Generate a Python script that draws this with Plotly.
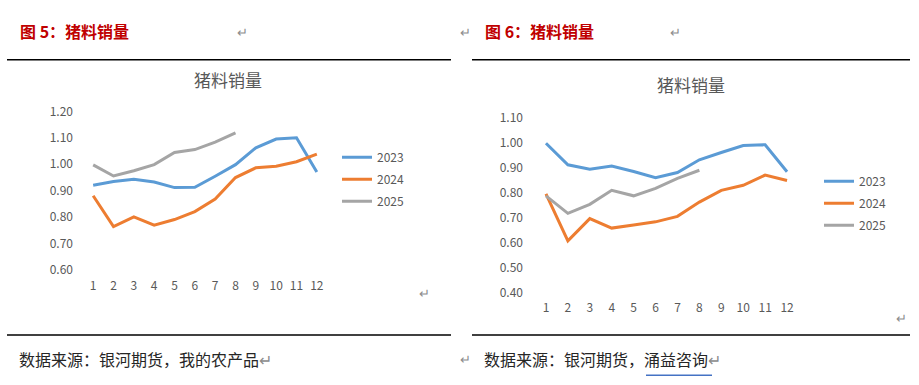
import plotly.graph_objects as go

months = list(range(1, 13))
month_labels = [str(m) for m in months]

# Chart 1 (图5)
c1_2023 = [0.92, 0.934, 0.943, 0.932, 0.911, 0.912, 0.954, 0.998, 1.062, 1.095, 1.10, 0.97]
c1_2024 = [0.88, 0.763, 0.80, 0.769, 0.79, 0.82, 0.868, 0.949, 0.986, 0.992, 1.009, 1.038]
c1_2025 = [0.997, 0.955, 0.975, 0.998, 1.044, 1.055, 1.083, 1.118]

# Chart 2 (图6)
c2_2023 = [0.998, 0.912, 0.894, 0.907, 0.885, 0.86, 0.881, 0.932, 0.961, 0.989, 0.992, 0.884]
c2_2024 = [0.796, 0.608, 0.697, 0.659, 0.671, 0.684, 0.706, 0.763, 0.81, 0.83, 0.871, 0.849]
c2_2025 = [0.788, 0.718, 0.754, 0.81, 0.788, 0.818, 0.858, 0.89]

series_names = ["2023", "2024", "2025"]
colors = ["#5B9BD5", "#ED7D31", "#A5A5A5"]

c1_ticks = [0.60, 0.70, 0.80, 0.90, 1.00, 1.10, 1.20]
c2_ticks = [0.40, 0.50, 0.60, 0.70, 0.80, 0.90, 1.00, 1.10]

W, H = 919, 385
FONT = "Noto Sans CJK SC"
GRAY = "#595959"

def px(x):
    return x / W

def py(y):
    return 1 - y / H

fig = go.Figure()

for name, vals, col in zip(series_names, [c1_2023, c1_2024, c1_2025], colors):
    fig.add_trace(go.Scatter(x=months[:len(vals)], y=vals, mode="lines", name=name,
                             line=dict(color=col, width=3), xaxis="x", yaxis="y",
                             legend="legend", legendgroup="a" + name))
for name, vals, col in zip(series_names, [c2_2023, c2_2024, c2_2025], colors):
    fig.add_trace(go.Scatter(x=months[:len(vals)], y=vals, mode="lines", name=name,
                             line=dict(color=col, width=3), xaxis="x2", yaxis="y2",
                             legend="legend2", legendgroup="b" + name))

axis_common = dict(showgrid=False, zeroline=False, showline=False, ticks="",
                   tickfont=dict(family=FONT, size=12, color=GRAY), fixedrange=True)

fig.update_layout(
    width=W, height=H, autosize=False,
    margin=dict(l=0, r=0, t=0, b=0),
    paper_bgcolor="white", plot_bgcolor="white",
    font=dict(family=FONT, color=GRAY),
    xaxis=dict(domain=[px(83), px(327)], range=[0.5, 12.5], tickmode="array",
               tickvals=months, ticktext=month_labels, anchor="y",
               ticklabelstandoff=7, **axis_common),
    yaxis=dict(domain=[py(271.7), py(106)], range=[0.6, 1.2], tickmode="array",
               tickvals=c1_ticks, ticktext=[f"{v:.2f}" for v in c1_ticks], anchor="x",
               ticklabelstandoff=9, **axis_common),
    xaxis2=dict(domain=[px(535), px(798)], range=[0.5, 12.5], tickmode="array",
                tickvals=months, ticktext=month_labels, anchor="y2",
                ticklabelstandoff=6, **axis_common),
    yaxis2=dict(domain=[py(296), py(112.7)], range=[0.4, 1.1], tickmode="array",
                tickvals=c2_ticks, ticktext=[f"{v:.2f}" for v in c2_ticks], anchor="x2",
                ticklabelstandoff=11, **axis_common),
    legend=dict(x=px(337), y=py(139), xanchor="left", yanchor="top",
                traceorder="grouped", tracegroupgap=3, itemwidth=30,
                font=dict(family=FONT, size=12, color=GRAY), bgcolor="rgba(0,0,0,0)"),
    legend2=dict(x=px(819), y=py(164), xanchor="left", yanchor="top",
                 traceorder="grouped", tracegroupgap=3, itemwidth=30,
                 font=dict(family=FONT, size=12, color=GRAY), bgcolor="rgba(0,0,0,0)"),
    showlegend=True,
)

annotations = [
    dict(text="<b>图 5：猪料销量</b>", x=px(18), y=py(22), xanchor="left", yanchor="middle",
         font=dict(family=FONT, size=16, color="#C00000")),
    dict(text="↵", x=px(242), y=py(22), xanchor="center", yanchor="middle",
         font=dict(family=FONT, size=13, color="#8C8C8C")),
    dict(text="↵", x=px(466), y=py(22), xanchor="center", yanchor="middle",
         font=dict(family=FONT, size=13, color="#8C8C8C")),
    dict(text="<b>图 6：猪料销量</b>", x=px(483), y=py(22), xanchor="left", yanchor="middle",
         font=dict(family=FONT, size=16, color="#C00000")),
    dict(text="↵", x=px(675), y=py(22), xanchor="center", yanchor="middle",
         font=dict(family=FONT, size=13, color="#8C8C8C")),
    dict(text="猪料销量", x=px(228), y=py(73), xanchor="center", yanchor="middle",
         font=dict(family=FONT, size=17, color=GRAY)),
    dict(text="猪料销量", x=px(691), y=py(78), xanchor="center", yanchor="middle",
         font=dict(family=FONT, size=17, color=GRAY)),
    dict(text="↵", x=px(424), y=py(296), xanchor="center", yanchor="middle",
         font=dict(family=FONT, size=13, color="#8C8C8C")),
    dict(text="↵", x=px(901), y=py(322), xanchor="center", yanchor="middle",
         font=dict(family=FONT, size=13, color="#8C8C8C")),
    dict(text="数据来源：银河期货，我的农产品<span style='color:#8C8C8C'>↵</span>",
         x=px(17), y=py(365), xanchor="left", yanchor="middle",
         font=dict(family=FONT, size=16, color="#262626")),
    dict(text="↵", x=px(466), y=py(365), xanchor="center", yanchor="middle",
         font=dict(family=FONT, size=13, color="#8C8C8C")),
    dict(text="数据来源：银河期货，涌益咨询<span style='color:#8C8C8C'>↵</span>",
         x=px(482), y=py(365), xanchor="left", yanchor="middle",
         font=dict(family=FONT, size=16, color="#262626")),
]
for a in annotations:
    a.update(xref="paper", yref="paper", showarrow=False)
fig.update_layout(annotations=annotations)

shapes = [
    dict(type="line", x0=px(7), x1=px(451), y0=py(52), y1=py(52), line=dict(color="black", width=1.5)),
    dict(type="line", x0=px(472), x1=px(910), y0=py(52), y1=py(52), line=dict(color="black", width=1.5)),
    dict(type="line", x0=px(7), x1=px(451), y0=py(340), y1=py(340), line=dict(color="black", width=1.5)),
    dict(type="line", x0=px(472), x1=px(910), y0=py(340), y1=py(340), line=dict(color="black", width=1.5)),
    dict(type="line", x0=px(646), x1=px(712), y0=py(382), y1=py(382), line=dict(color="#4472C4", width=1.5)),
]
for s in shapes:
    s.update(xref="paper", yref="paper")
fig.update_layout(shapes=shapes)

post = (
    "var d=document.getElementById('{plot_id}');"
    "d.style.position='fixed';d.style.top='0px';d.style.left='0px';"
    "document.body.style.margin='0';document.body.style.padding='0';"
    "document.documentElement.style.overflow='hidden';document.body.style.overflow='hidden';"
)

fig.write_html("out.html", config={"responsive": False, "displayModeBar": False},
               post_script=post)
